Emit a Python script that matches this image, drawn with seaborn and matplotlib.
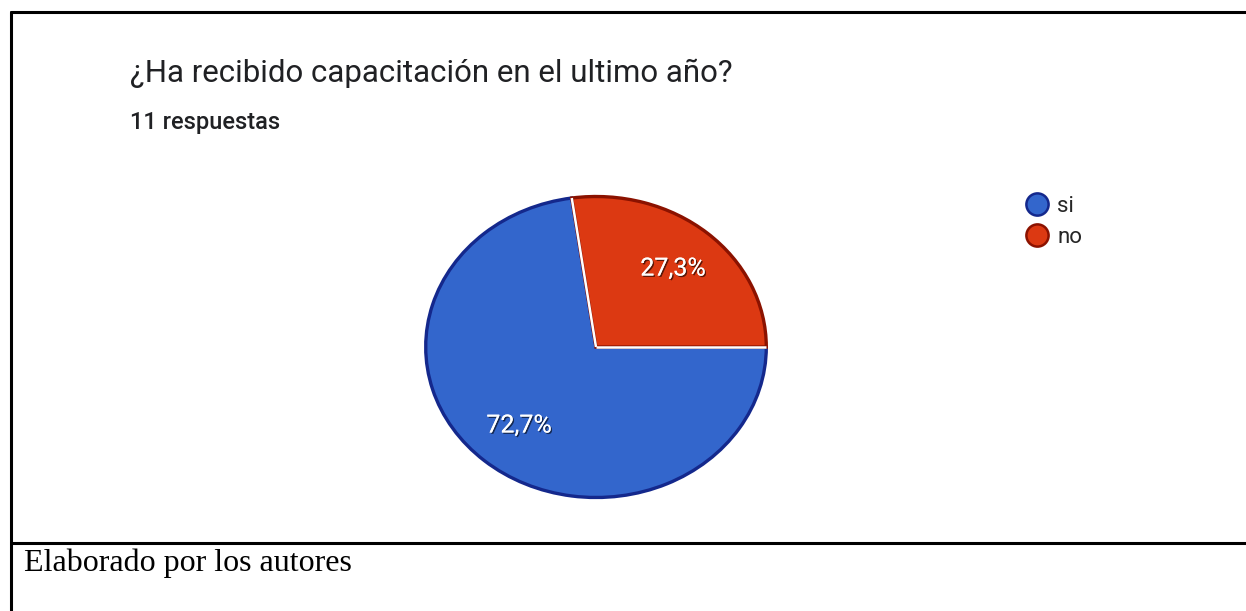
import numpy as np
import matplotlib
matplotlib.use('Agg')
import matplotlib.pyplot as plt
import matplotlib.patheffects as pe
from matplotlib.lines import Line2D
import seaborn as sns

# Data
labels = ['si', 'no']
counts = [8, 3]
colors = ['#3366CC', '#DC3912']
edge_colors = ['#14288C', '#8B1200']
title = '¿Ha recibido capacitación en el ultimo año?'
subtitle = '11 respuestas'
caption = 'Elaborado por los autores'

sns.set_theme(style='white')
plt.rcParams['font.family'] = ['Roboto', 'DejaVu Sans']

W, H = 1246, 611
fig = plt.figure(figsize=(W / 100, H / 100), dpi=100)

# pie axes, slightly wider than tall like the reference
ax = fig.add_axes([(596 - 172) / W, (H - 499) / H, 344 / W, 304 / H])

def pct_fmt(p):
    return ('%.1f%%' % p).replace('.', ',')

wedges, texts, autotexts = ax.pie(
    counts, colors=colors, startangle=360 * counts[1] / sum(counts),
    counterclock=True, autopct=pct_fmt, pctdistance=0.69,
    wedgeprops=dict(linewidth=2.4),
    textprops=dict(color='white', fontsize=18, family='Roboto'))
for w, ec in zip(wedges, edge_colors):
    w.set_edgecolor(ec)
# white separators along the slice borders
for w in wedges:
    a = np.deg2rad(w.theta1)
    ax.plot([0, np.cos(a)], [0, np.sin(a)], color='white', lw=1.8,
            solid_capstyle='butt')
for t in autotexts:
    t.set_path_effects([pe.withSimplePatchShadow(offset=(1, -1), shadow_rgbFace='black', alpha=0.6),
                        pe.Normal()])
ax.set_aspect('auto')
ax.set_xlim(-1.01, 1.01)
ax.set_ylim(-1.01, 1.01)
ax.axis('off')

# legend
handles = [Line2D([0], [0], marker='o', linestyle='', markersize=16,
                  markerfacecolor=c, markeredgecolor=ec, markeredgewidth=1.8)
           for c, ec in zip(colors, edge_colors)]
fig.legend(handles, labels, loc='upper left', bbox_to_anchor=(1015 / W, 1 - 187 / H),
           frameon=False, fontsize=16, handletextpad=0.3, labelspacing=0.45,
           handlelength=1.2, borderaxespad=0)

# title texts
fig.text(130 / W, 1 - 73 / H, title, fontsize=22.5, color='#202124', va='center')
fig.text(130 / W, 1 - 122 / H, subtitle, fontsize=17, color='#202124',
         va='center', fontweight='medium')
fig.text(24 / W, 1 - 563 / H, caption, fontsize=23, color='black', va='center',
         family='Liberation Serif')

# table frame lines
fig.add_artist(Line2D([10.5 / W, 1], [1 - 11.5 / H, 1 - 11.5 / H], color='black', lw=2.2))
fig.add_artist(Line2D([10.5 / W, 10.5 / W], [0, 1 - 11.5 / H], color='black', lw=2.2))
fig.add_artist(Line2D([10.5 / W, 1], [1 - 543 / H, 1 - 543 / H], color='black', lw=2.2))

fig.savefig('out.png', dpi=100)
